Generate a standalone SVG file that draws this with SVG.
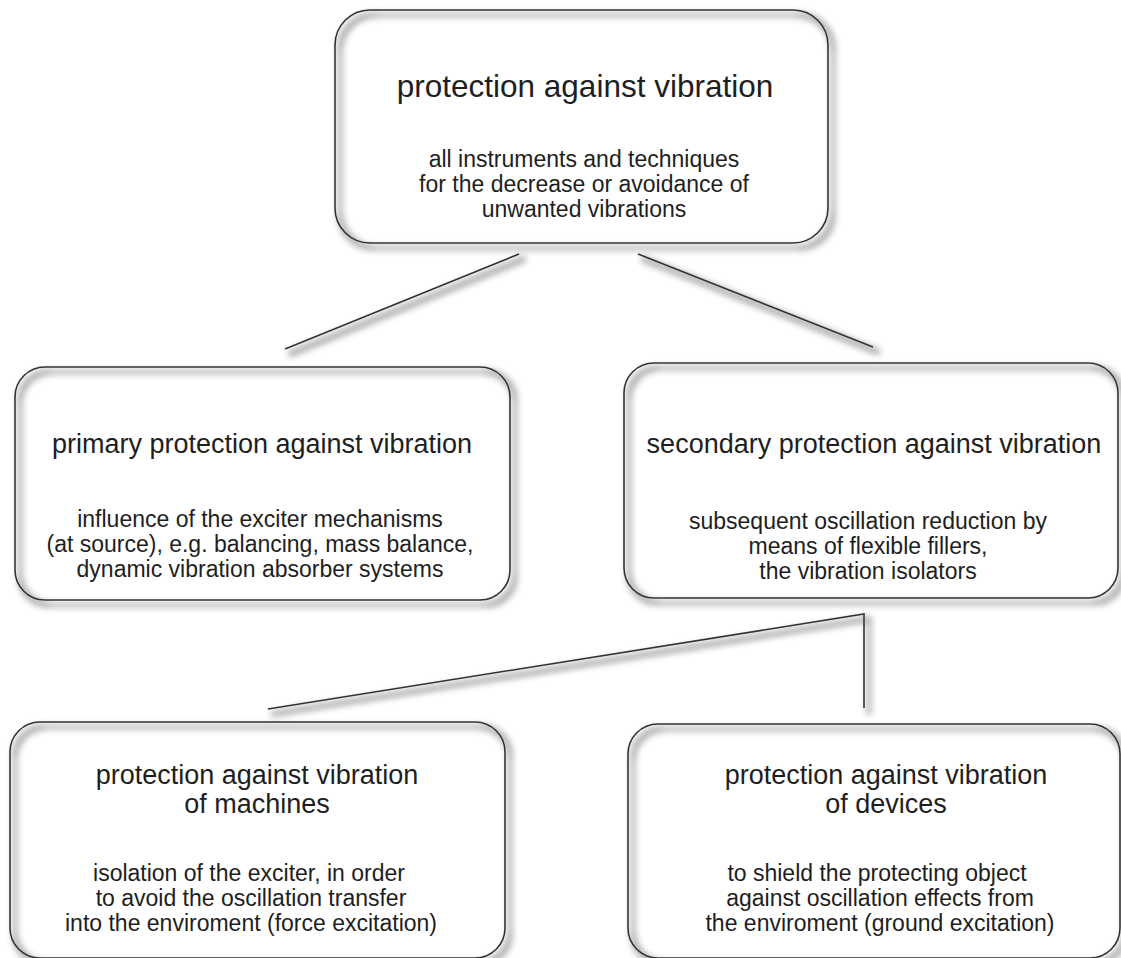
<svg xmlns="http://www.w3.org/2000/svg" width="1121" height="958" viewBox="0 0 1121 958">
<defs>
<filter id="sh" filterUnits="userSpaceOnUse" x="0" y="0" width="1121" height="958">
<feMorphology in="SourceAlpha" operator="dilate" radius="1.5" result="d"/>
<feGaussianBlur in="d" stdDeviation="3.2"/>
<feOffset dx="5" dy="5"/>
<feComponentTransfer><feFuncA type="linear" slope="0.32"/></feComponentTransfer>
<feMerge><feMergeNode/><feMergeNode in="SourceGraphic"/></feMerge>
</filter>
<style>
.box{fill:none;stroke:#333;stroke-width:1.6;filter:url(#sh)}
.ln{fill:none;stroke:#333;stroke-width:1.6}
.t{font-family:"Liberation Sans",Arial,sans-serif;fill:#1e1e1e;text-anchor:middle}
.h1{font-size:31.5px}
.h2{font-size:27px}
.d{font-size:23px}
</style>
</defs>
<rect width="1121" height="958" fill="#fff"/>
<g id="connectors" filter="url(#sh)">
<line class="ln" x1="519" y1="254" x2="285" y2="349"/>
<line class="ln" x1="638" y1="254" x2="873" y2="347"/>
<polyline class="ln" points="268,709 864,614 864,708"/>
</g>
<g id="n-top">
<rect class="box" x="335" y="10" width="493" height="233" rx="35"/>
<text class="t h1" x="585" y="97">protection against vibration</text>
<text class="t d" x="584" y="167">all instruments and techniques</text>
<text class="t d" x="584" y="192">for the decrease or avoidance of</text>
<text class="t d" x="584" y="217">unwanted vibrations</text>
</g>
<g id="n-primary">
<rect class="box" x="15" y="367" width="495" height="233" rx="30"/>
<text class="t h2" x="262" y="453">primary protection against vibration</text>
<text class="t d" x="260" y="527">influence of the exciter mechanisms</text>
<text class="t d" x="260" y="552">(at source), e.g. balancing, mass balance,</text>
<text class="t d" x="260" y="577">dynamic vibration absorber systems</text>
</g>
<g id="n-secondary">
<rect class="box" x="624" y="363" width="494" height="235" rx="30"/>
<text class="t h2" x="874" y="453">secondary protection against vibration</text>
<text class="t d" x="868" y="529">subsequent oscillation reduction by</text>
<text class="t d" x="868" y="554">means of flexible fillers,</text>
<text class="t d" x="868" y="579">the vibration isolators</text>
</g>
<g id="n-machines">
<rect class="box" x="10" y="722" width="495" height="236" rx="30"/>
<text class="t h2" x="257" y="784">protection against vibration</text>
<text class="t h2" x="257" y="813">of machines</text>
<text class="t d" x="249" y="881">isolation of the exciter, in order</text>
<text class="t d" x="251" y="906">to avoid the oscillation transfer</text>
<text class="t d" x="251" y="931">into the enviroment (force excitation)</text>
</g>
<g id="n-devices">
<rect class="box" x="628" y="724" width="492" height="234" rx="30"/>
<text class="t h2" x="886" y="784">protection against vibration</text>
<text class="t h2" x="886" y="813">of devices</text>
<text class="t d" x="877" y="881">to shield the protecting object</text>
<text class="t d" x="880" y="906">against oscillation effects from</text>
<text class="t d" x="880" y="931">the enviroment (ground excitation)</text>
</g>
</svg>
